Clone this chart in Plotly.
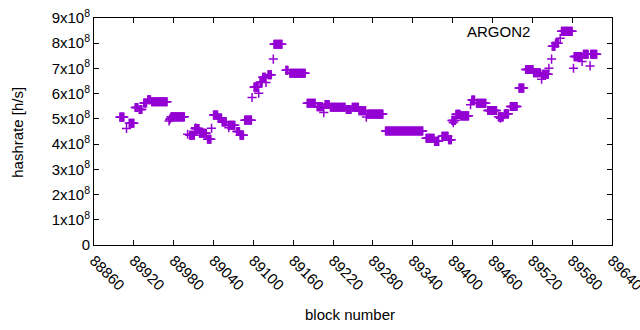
import plotly.graph_objects as go

# Runs of consecutive blocks with the same hashrate (units: 1e8 h/s)
run_start = [88899, 88913, 88922, 88928, 88935, 88941, 88947, 88976, 89004, 89012,
             89019, 89031, 89040, 89047, 89053, 89062, 89075, 89080, 89087, 89101,
             89110, 89114, 89122, 89131, 89149, 89155, 89181, 89196, 89208, 89216,
             89240, 89249, 89259, 89272, 89299, 89360, 89373, 89384, 89394, 89399,
             89405, 89412, 89429, 89436, 89453, 89469, 89478, 89487, 89500, 89510,
             89522, 89535, 89550, 89555, 89564, 89583, 89597, 89608]
run_end = [88905, 88920, 88926, 88932, 88939, 88945, 88970, 88996, 89011, 89018,
           89029, 89036, 89046, 89052, 89059, 89072, 89079, 89085, 89097, 89107,
           89113, 89118, 89127, 89143, 89152, 89178, 89193, 89204, 89214, 89238,
           89247, 89258, 89269, 89295, 89355, 89372, 89379, 89393, 89398, 89404,
           89411, 89424, 89433, 89450, 89466, 89476, 89484, 89497, 89507, 89521,
           89532, 89544, 89554, 89559, 89580, 89594, 89604, 89617]
run_value = [5.07, 4.83, 5.45, 5.37, 5.63, 5.76, 5.68, 5.08, 4.35, 4.62,
             4.43, 4.19, 5.15, 5.03, 4.88, 4.75, 4.50, 4.35, 4.95, 6.26,
             6.45, 6.65, 6.75, 7.96, 6.93, 6.81, 5.62, 5.48, 5.57, 5.46,
             5.37, 5.46, 5.32, 5.19, 4.52, 4.23, 4.11, 4.31, 4.17, 4.94,
             5.18, 5.12, 5.75, 5.62, 5.33, 5.08, 5.20, 5.49, 6.22, 6.96,
             6.83, 6.77, 7.88, 8.00, 8.47, 7.47, 7.56, 7.56]

# Isolated blocks
single_block = [88909, 88973, 88974, 88975, 89001, 89013, 89037, 89063, 89098, 89108,
                89119, 89130, 89206, 89270, 89401, 89427, 89472, 89534, 89545, 89549,
                89562, 89582, 89595, 89607]
single_value = [4.62, 4.92, 4.98, 5.02, 4.39, 4.65, 4.63, 4.65, 5.85, 6.02,
                6.44, 7.37, 5.25, 5.07, 4.85, 5.56, 5.03, 6.57, 7.01, 7.37,
                8.20, 7.01, 7.28, 7.10]

x_ticks = list(range(88860, 89641, 60))
y_ticks = [i * 1e8 for i in range(10)]
y_labels = ["0"] + [f"{i}x10<sup>8</sup>" for i in range(1, 10)]

xs, ys = [], []
for s, e, v in zip(run_start, run_end, run_value):
    for b in range(s, e + 1):
        xs.append(b)
        ys.append(v * 1e8)
for b, v in zip(single_block, single_value):
    xs.append(b)
    ys.append(v * 1e8)

purple = "#9400D3"
fig = go.Figure()
fig.add_trace(go.Scatter(
    x=xs, y=ys, mode="markers",
    marker=dict(symbol="cross-thin", size=6.5, line=dict(color=purple, width=1.5), color=purple),
    showlegend=False, hoverinfo="skip"))

font = dict(family="Liberation Sans, Arial, sans-serif", size=15, color="black")
fig.update_layout(
    width=640, height=330,
    margin=dict(l=94, r=28, t=18, b=85),
    paper_bgcolor="white", plot_bgcolor="white",
    font=font,
    xaxis=dict(range=[88860, 89640], tickvals=x_ticks, ticktext=[str(t) for t in x_ticks],
               tickangle=45, ticks="inside", ticklen=5, tickcolor="black",
               ticklabeloverflow="allow",
               showline=True, linecolor="black", linewidth=1, mirror="allticks",
               showgrid=False, zeroline=False, automargin=False),
    yaxis=dict(range=[0, 9e8], tickvals=y_ticks, ticktext=y_labels,
               ticks="inside", ticklen=5, tickcolor="black",
               showline=True, linecolor="black", linewidth=1, mirror="allticks",
               showgrid=False, zeroline=False, automargin=False),
    annotations=[
        dict(text="ARGON2", xref="paper", yref="paper", x=0.845, y=0.94,
             xanchor="right", yanchor="middle", showarrow=False, font=font),
        dict(text="block number", xref="paper", yref="paper", x=0.494, y=-0.308,
             xanchor="center", yanchor="middle", showarrow=False, font=font),
        dict(text="hashrate [h/s]", xref="paper", yref="paper", x=-0.147, y=0.498,
             xanchor="center", yanchor="middle", textangle=-90, showarrow=False, font=font),
    ],
)

fig.write_html("out.html", config={"displayModeBar": False, "staticPlot": True},
               post_script="document.body.style.margin='0';document.body.style.overflow='hidden';")
